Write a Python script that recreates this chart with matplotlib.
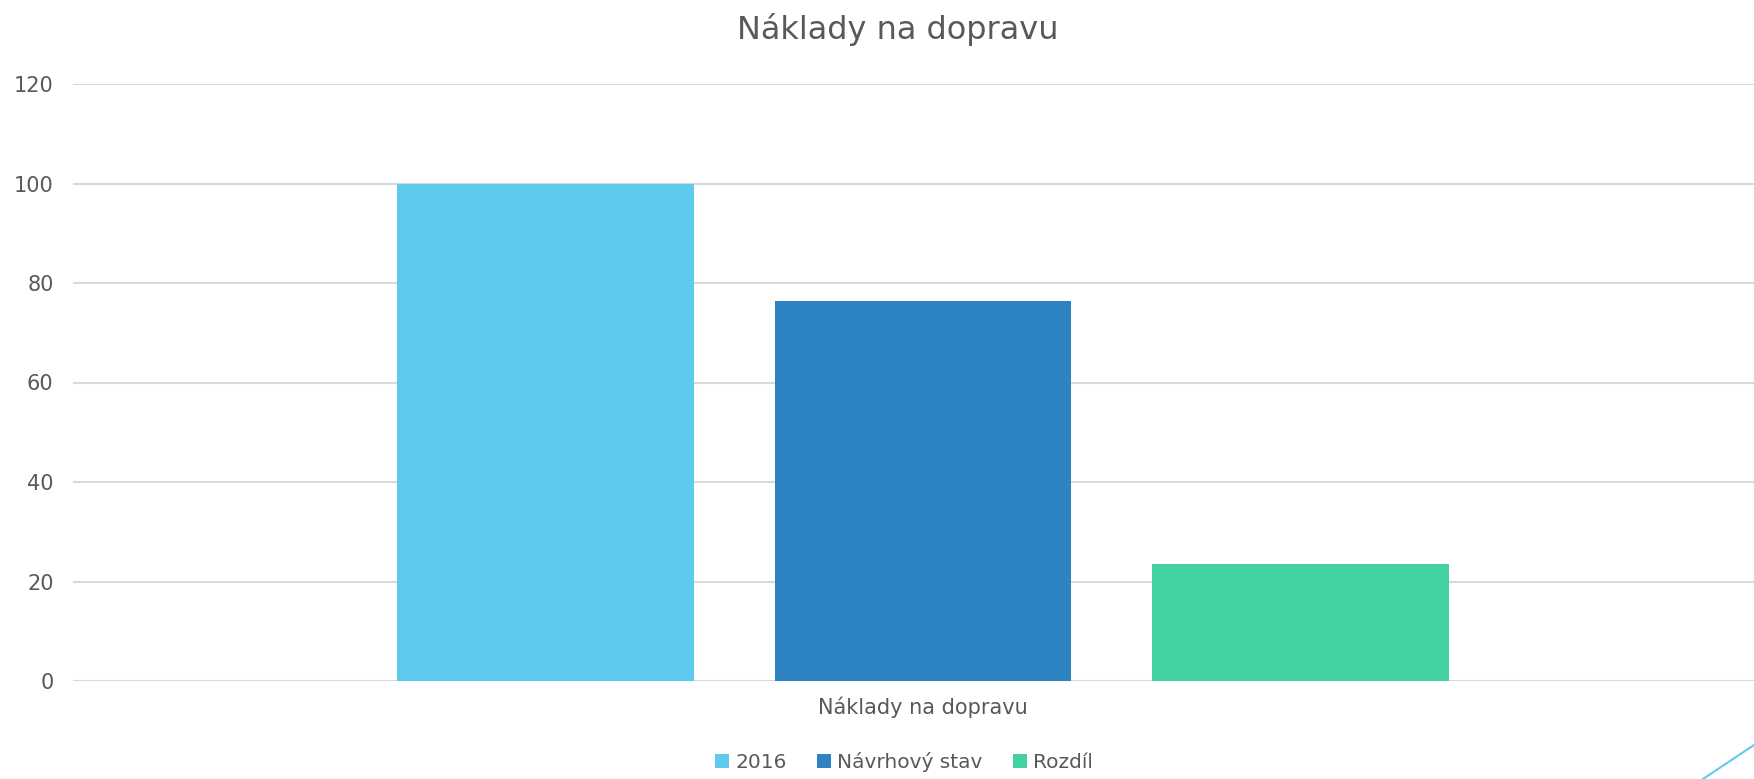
import numpy as np
from matplotlib import pyplot as plt
from matplotlib.lines import Line2D
from matplotlib.patches import Patch

# data
category = ["Náklady na dopravu"]
series = ["2016", "Návrhový stav", "Rozdíl"]
values = [100, 76.4, 23.6]
colors = ["#5ecbee", "#2e83c2", "#43d1a1"]
yticks = [0, 20, 40, 60, 80, 100, 120]

grey = "#595959"
plt.rcParams['font.family'] = ['DejaVu Sans']

fig = plt.figure(figsize=(17.54, 7.79), dpi=100)
W, H = 1754, 779
ax = fig.add_axes([73 / W, 1 - 681 / H, 1700 / W, (681 - 84) / H])

offsets = np.array([-1, 0, 1]) * 0.2218
width = 0.1747
for off, v, c in zip(offsets, values, colors):
    ax.bar(0 + off, v, width=width, color=c, zorder=3)

ax.set_xlim(-0.5, 0.5)
ax.set_ylim(0, 120)
ax.set_yticks(yticks)
ax.set_yticklabels([str(t) for t in yticks], fontsize=15, color=grey)
ax.set_xticks([0])
ax.set_xticklabels(category, fontsize=15, color=grey)
ax.tick_params(axis='y', length=0, pad=14)
ax.tick_params(axis='x', length=0, pad=11)
ax.grid(axis='y', color='#d9d9d9', linewidth=1.5, zorder=0)
for s in ax.spines.values():
    s.set_visible(False)

fig.text(898 / W, 1 - 30 / H, "Náklady na dopravu", ha='center', va='center',
         fontsize=23, color=grey)

handles = [Patch(facecolor=c, edgecolor='none') for c in colors]
leg = fig.legend(handles, series, loc='center', bbox_to_anchor=(904 / W, 1 - 762 / H),
                 ncol=3, frameon=False, fontsize=14.5, handlelength=0.7,
                 handleheight=0.7, handletextpad=0.3, columnspacing=1.5)
for t in leg.get_texts():
    t.set_color(grey)

# decorative line in the corner
fig.add_artist(Line2D([1754 / W, 1703 / W], [1 - 745 / H, 1 - 779 / H],
                      transform=fig.transFigure, color='#5ecbee', linewidth=1.5))

fig.savefig("out.png", dpi=100)
